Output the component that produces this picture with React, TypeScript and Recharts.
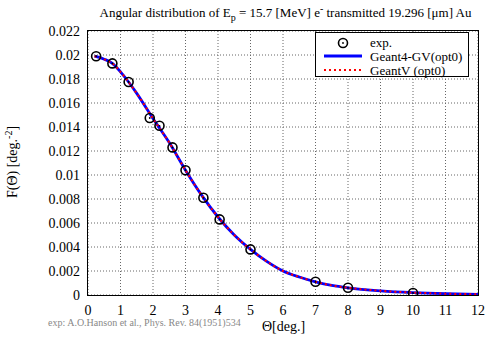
import React from 'react';
import { ComposedChart, Line, Scatter, XAxis, YAxis, CartesianGrid } from 'recharts';

// experimental points (Hanson et al.)
const expTheta = [0.25, 0.75, 1.25, 1.9, 2.2, 2.6, 3.0, 3.55, 4.05, 5.0, 7.0, 8.0, 10.0];
const expF = [0.0199, 0.0193, 0.01775, 0.01475, 0.0141, 0.0123, 0.0104, 0.0081, 0.0063, 0.0038, 0.0011, 0.0006, 0.00017];

// simulation curves
const simTheta = [0.2, 0.5, 0.75, 1, 1.25, 1.5, 2, 2.5, 3, 3.5, 4, 4.5, 5, 5.5, 6, 6.5, 7, 7.5, 8, 9, 10, 11, 12];
const geant4GV = [0.0199, 0.01965, 0.0193, 0.0186, 0.01775, 0.0168, 0.0147, 0.0127, 0.0104, 0.0083, 0.0065, 0.005, 0.0038, 0.0028, 0.002, 0.0015, 0.0011, 0.0008, 0.0006, 0.00035, 0.0002, 0.00011, 0.00006];
const geantV = [0.0199, 0.01964, 0.0193, 0.0186, 0.01774, 0.0168, 0.0147, 0.0127, 0.0104, 0.0083, 0.0065, 0.005, 0.0038, 0.0028, 0.002, 0.0015, 0.0011, 0.0008, 0.0006, 0.00035, 0.0002, 0.00011, 0.00006];

const xTicks = [0, 1, 2, 3, 4, 5, 6, 7, 8, 9, 10, 11, 12];
const yTicks = [0, 0.002, 0.004, 0.006, 0.008, 0.01, 0.012, 0.014, 0.016, 0.018, 0.02, 0.022];

const expData = expTheta.map((x, i) => ({ x, y: expF[i] }));
const g4Data = simTheta.map((x, i) => ({ x, y: geant4GV[i] }));
const gvData = simTheta.map((x, i) => ({ x, y: geantV[i] }));

const serif = '"Liberation Serif", "DejaVu Serif", serif';

const fmt = (v: number) => String(Number(v.toFixed(3)));

const XTick = (props: any) => {
  const { x, y, payload } = props;
  return (
    <text x={x} y={y + 14} textAnchor="middle" fontSize={14} fontFamily={serif} fill="#000">
      {fmt(payload.value)}
    </text>
  );
};

const YTick = (props: any) => {
  const { x, y, payload } = props;
  return (
    <text x={x} y={y + 5} textAnchor="end" fontSize={14} fontFamily={serif} fill="#000">
      {fmt(payload.value)}
    </text>
  );
};

const ExpMarker = (props: any) => {
  const { cx, cy } = props;
  if (cx == null || cy == null) return null;
  return (
    <g>
      <circle cx={cx} cy={cy} r={4.5} fill="none" stroke="#000" strokeWidth={1.6} />
      <circle cx={cx} cy={cy} r={0.9} fill="#000" />
    </g>
  );
};

const App = () => {
  return (
    <div style={{ position: 'absolute', left: 0, top: 0, width: 490, height: 338, background: '#fff', fontFamily: serif }}>
      <ComposedChart width={490} height={338} margin={{ top: 31, right: 12, bottom: 13, left: 38 }}>
        <CartesianGrid xAxisId="b" yAxisId="l" stroke="#666" strokeDasharray="1 2" />
        <XAxis
          xAxisId="b"
          type="number"
          dataKey="x"
          domain={[0, 12]}
          ticks={xTicks}
          interval={0}
          height={30}
          tickSize={0}
          tickMargin={6}
          tick={<XTick />}
          axisLine={false}
          allowDataOverflow
        />
        <YAxis
          yAxisId="l"
          type="number"
          domain={[0, 0.022]}
          ticks={yTicks}
          interval={0}
          width={50}
          tickSize={0}
          tickMargin={8}
          tick={<YTick />}
          axisLine={false}
          allowDataOverflow
        />
        <Line xAxisId="b" yAxisId="l" data={g4Data} dataKey="y" type="monotone" stroke="#0000ff" strokeWidth={2.8} dot={false} isAnimationActive={false} />
        <Line xAxisId="b" yAxisId="l" data={gvData} dataKey="y" type="monotone" stroke="#ff0000" strokeWidth={2} strokeDasharray="2 3" dot={false} isAnimationActive={false} />
        <Scatter xAxisId="b" yAxisId="l" data={expData} dataKey="y" shape={ExpMarker} isAnimationActive={false} />
      </ComposedChart>

      {/* plot frame */}
      <div style={{ position: 'absolute', left: 87, top: 30, width: 392, height: 266, border: '1.5px solid #000', boxSizing: 'border-box' }} />

      <div style={{ position: 'absolute', left: 83, top: 3, width: 405, textAlign: 'center', fontSize: 13, whiteSpace: 'nowrap' }}>
        Angular distribution of E<sub style={{ fontSize: 10 }}>p</sub> = 15.7 [MeV] e<sup style={{ fontSize: 10 }}>-</sup> transmitted 19.296 [μm] Au
      </div>

      <div style={{ position: 'absolute', left: 315, top: 32, width: 154, height: 45, background: '#fff', border: '1px solid #000', boxSizing: 'border-box' }}>
        <svg width={154} height={45} style={{ position: 'absolute', left: 0, top: 0 }}>
          <ExpMarker cx={27} cy={10} />
          <line x1={8} y1={23} x2={46} y2={23} stroke="#0000ff" strokeWidth={2.8} />
          <line x1={8} y1={37} x2={46} y2={37} stroke="#ff0000" strokeWidth={2} strokeDasharray="2 3" />
          <text x={54} y={14} fontSize={13} fontFamily={serif}>exp.</text>
          <text x={54} y={27.5} fontSize={13} fontFamily={serif}>Geant4-GV(opt0)</text>
          <text x={54} y={41.5} fontSize={13} fontFamily={serif}>GeantV (opt0)</text>
        </svg>
      </div>

      <div style={{ position: 'absolute', left: 12, top: 162, transform: 'translate(-50%, -50%) rotate(-90deg)', fontSize: 14, whiteSpace: 'nowrap' }}>
        F(Θ) [deg.<sup style={{ fontSize: 10 }}>-2</sup>]
      </div>

      <div style={{ position: 'absolute', left: 48, top: 317, fontSize: 10, color: '#888', whiteSpace: 'nowrap' }}>
        exp: A.O.Hanson et al., Phys. Rev. 84(1951)534
      </div>

      <div style={{ position: 'absolute', left: 262, top: 319, fontSize: 14, whiteSpace: 'nowrap' }}>
        Θ[deg.]
      </div>
    </div>
  );
};

export default App;
